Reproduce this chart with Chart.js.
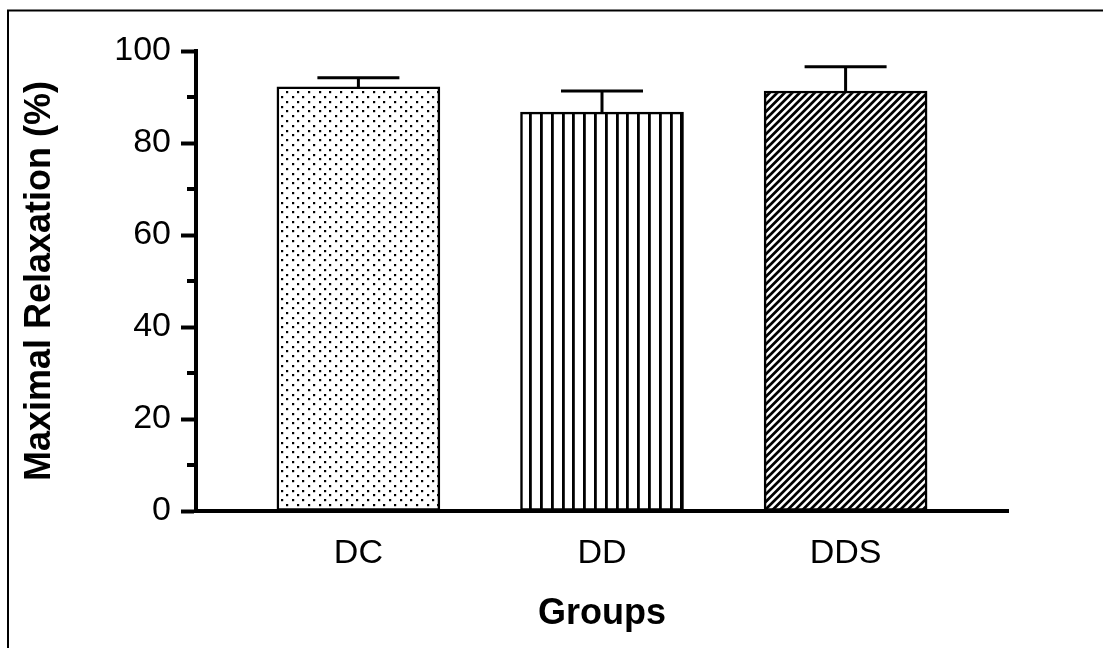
<!DOCTYPE html>
<html>
<head>
<meta charset="utf-8">
<script src="https://cdn.jsdelivr.net/npm/chart.js@4/dist/chart.umd.min.js"></script>
<style>
  html, body { margin: 0; padding: 0; background: #fff; }
  canvas { display: block; }
</style>
</head>
<body>
<canvas id="chart" width="1103" height="648"></canvas>
<script>
// Groups and their slot on the x axis
const groups = ['DC', 'DD', 'DDS'];
const groupPositions = [1, 2, 3];
// Maximal relaxation (%) means and error (upper whisker)
const meanRelaxation = [92.2, 86.7, 91.3];
const errorRelaxation = [2.0, 4.6, 5.3];
// Y axis tick values
const yMajorTicks = [0, 20, 40, 60, 80, 100];
const yMinorTicks = [10, 30, 50, 70, 90];

const FONT = "'Liberation Sans', Arial, Helvetica, sans-serif";

function makeTile(w, h, draw) {
  const c = document.createElement('canvas');
  c.width = w; c.height = h;
  const g = c.getContext('2d');
  g.fillStyle = '#fff';
  g.fillRect(0, 0, w, h);
  g.fillStyle = '#000';
  g.strokeStyle = '#000';
  draw(g, w, h);
  return document.createElement('canvas').getContext('2d').createPattern(c, 'repeat');
}

// staggered dot fill
function dotPattern() {
  return makeTile(54, 48, (g) => {
    for (let r = 0; r < 10; r++) {
      for (let col = 0; col < 5; col++) {
        const x = Math.round(col * 10.8 + (r % 2) * 5.4);
        const y = Math.round(r * 4.8);
        g.fillRect(x, y, 2.2, 2.2);
      }
    }
  });
}

// vertical stripe fill
function stripePattern() {
  return makeTile(54, 10, (g) => {
    for (let i = 0; i < 5; i++) {
      g.fillRect(Math.round(i * 10.8), 0, 2.8, 10);
    }
  });
}

// diagonal hatch fill (rising to the right)
function hatchPattern() {
  return makeTile(15, 15, (g) => {
    g.lineWidth = 2.7;
    g.lineCap = 'square';
    for (let c = -15; c <= 45; c += 7.5) {
      g.beginPath();
      g.moveTo(-2, c + 2);
      g.lineTo(c + 2, -2);
      g.stroke();
    }
  });
}

// outer frame around the figure
const framePlugin = {
  id: 'frame',
  beforeDraw(chart) {
    const { ctx } = chart;
    ctx.save();
    ctx.fillStyle = '#fff';
    ctx.fillRect(0, 0, chart.width, chart.height);
    ctx.strokeStyle = '#000';
    ctx.lineWidth = 2;
    ctx.strokeRect(8, 10.5, chart.width + 20, chart.height + 20);
    ctx.restore();
  }
};

// upper error whiskers with caps
const errorBarPlugin = {
  id: 'errorBars',
  afterDatasetsDraw(chart) {
    const { ctx } = chart;
    const xs = chart.scales.x, ys = chart.scales.y;
    ctx.save();
    ctx.strokeStyle = '#000';
    ctx.lineWidth = 3;
    ctx.lineCap = 'butt';
    meanRelaxation.forEach((m, i) => {
      const x = xs.getPixelForValue(groupPositions[i]);
      const yTop = ys.getPixelForValue(m + errorRelaxation[i]);
      const yBar = ys.getPixelForValue(m);
      const half = 41;
      ctx.beginPath();
      ctx.moveTo(x, yBar);
      ctx.lineTo(x, yTop);
      ctx.moveTo(x - half, yTop);
      ctx.lineTo(x + half, yTop);
      ctx.stroke();
    });
    ctx.restore();
  }
};

// short minor ticks between the labelled ones
const minorTickPlugin = {
  id: 'minorTicks',
  afterDraw(chart) {
    const { ctx } = chart;
    const ys = chart.scales.y;
    const xAxis = ys.right;
    ctx.save();
    ctx.strokeStyle = '#000';
    ctx.lineWidth = 4;
    yMinorTicks.forEach(v => {
      const y = ys.getPixelForValue(v);
      ctx.beginPath();
      ctx.moveTo(xAxis - 9, y);
      ctx.lineTo(xAxis, y);
      ctx.stroke();
    });
    ctx.restore();
  }
};

const ctx = document.getElementById('chart').getContext('2d');
new Chart(ctx, {
  type: 'bar',
  data: {
    datasets: [{
      data: groupPositions.map((x, i) => ({ x: x, y: meanRelaxation[i] })),
      backgroundColor: [dotPattern(), stripePattern(), hatchPattern()],
      borderColor: '#000',
      borderWidth: 2.5,
      borderSkipped: false,
      barThickness: 163
    }]
  },
  options: {
    responsive: false,
    animation: false,
    devicePixelRatio: 1,
    layout: { padding: { top: 51, right: 95, left: 0, bottom: 0 } },
    plugins: {
      legend: { display: false },
      tooltip: { enabled: false }
    },
    scales: {
      x: {
        type: 'linear',
        offset: false,
        min: 1 / 3,
        max: 11 / 3,
        afterBuildTicks: (s) => { s.ticks = groupPositions.map(v => ({ value: v })); },
        afterFit: (s) => { s.height = 137; },
        ticks: {
          callback: (v) => groups[groupPositions.indexOf(v)],
          font: { family: FONT, size: 34 },
          color: '#000',
          padding: 14,
          autoSkip: false,
          maxRotation: 0
        },
        grid: { display: false, offset: false },
        border: { display: true, color: '#000', width: 4 },
        title: {
          display: true,
          text: 'Groups',
          color: '#000',
          font: { family: FONT, size: 36, weight: 'bold' },
          padding: { top: 0, bottom: 12 }
        }
      },
      y: {
        min: 0,
        max: 100,
        afterBuildTicks: (s) => { s.ticks = yMajorTicks.map(v => ({ value: v })); },
        afterFit: (s) => { s.width = 196; },
        ticks: {
          font: { family: FONT, size: 34 },
          color: '#000',
          padding: 10
        },
        grid: {
          drawOnChartArea: false,
          drawTicks: true,
          tickLength: 15,
          tickWidth: 4,
          tickColor: '#000'
        },
        border: { display: true, color: '#000', width: 4 },
        title: {
          display: true,
          text: 'Maximal Relaxation (%)',
          color: '#000',
          font: { family: FONT, size: 36, weight: 'bold' },
          padding: { top: 18, bottom: 0 }
        }
      }
    }
  },
  plugins: [framePlugin, errorBarPlugin, minorTickPlugin]
});
</script>
</body>
</html>
